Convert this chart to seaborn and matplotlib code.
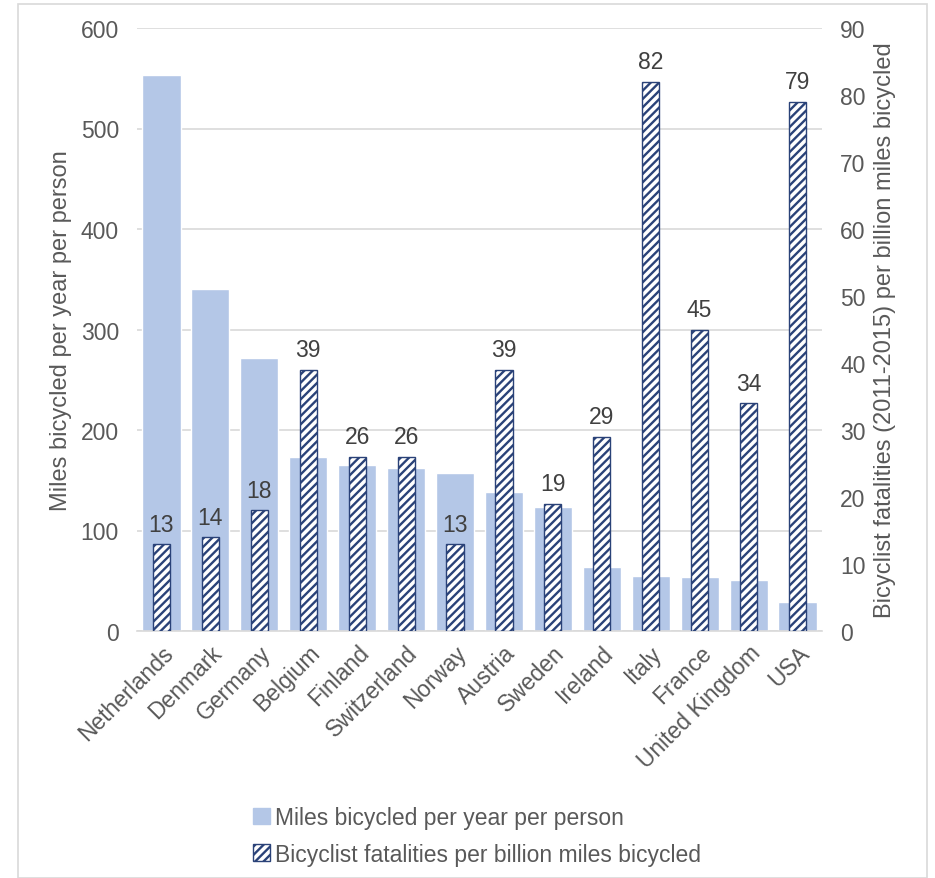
import matplotlib
matplotlib.use("Agg")
import matplotlib.pyplot as plt
import matplotlib.patches as mpatches
import seaborn as sns
import pandas as pd

countries = ["Netherlands", "Denmark", "Germany", "Belgium", "Finland", "Switzerland",
             "Norway", "Austria", "Sweden", "Ireland", "Italy", "France",
             "United Kingdom", "USA"]
miles = [553, 340, 272, 173, 165, 162, 157, 138, 123, 64, 55, 54, 51, 29]
fatalities = [13, 14, 18, 39, 26, 26, 13, 39, 19, 29, 82, 45, 34, 79]

miles_label = "Miles bicycled per year per person"
fat_label = "Bicyclist fatalities per billion miles bicycled"
left_ylabel = "Miles bicycled per year per person"
right_ylabel = "Bicyclist fatalities (2011-2015) per billion miles bicycled"

sns.set_theme(style="white")
plt.rcParams['font.family'] = ['Liberation Sans', 'DejaVu Sans']
plt.rcParams['hatch.linewidth'] = 1.7
plt.rcParams['hatch.color'] = '#1f2f55'

df = pd.DataFrame({"country": countries, "miles": miles, "fat": fatalities})

light = "#b4c7e7"
gray_txt = "#595959"
grid_c = "#d9d9d9"
FS = 16.5

fig = plt.figure(figsize=(9.35, 8.79), dpi=100)
ax = fig.add_axes([137/935, 1-632/879, (822-137)/935, (632-29)/879])
ax2 = ax.twinx()

sns.barplot(data=df, x="country", y="miles", color=light, saturation=1,
            width=0.78, ax=ax, order=countries)
sns.barplot(data=df, x="country", y="fat", color="white", saturation=1,
            width=0.35, ax=ax2, order=countries, edgecolor="#2a4278",
            linewidth=1.0, hatch="////")

ax.set_ylim(0, 600)
ax2.set_ylim(0, 90)
ax.set_yticks(range(0, 601, 100))
ax2.set_yticks(range(0, 91, 10))
ax.set_xlim(-0.5, len(countries) - 0.5)
ax.set_axisbelow(True)
ax.yaxis.grid(True, color=grid_c, linewidth=1.2)
ax.xaxis.grid(False)
ax2.grid(False)

for a in (ax, ax2):
    for s in a.spines.values():
        s.set_visible(False)
ax.spines['bottom'].set_visible(True)
ax.spines['bottom'].set_color(grid_c)
ax.spines['bottom'].set_linewidth(1.2)

ax.tick_params(axis='y', length=0, pad=13, labelsize=FS, labelcolor=gray_txt)
ax2.tick_params(axis='y', length=0, pad=13, labelsize=FS, labelcolor=gray_txt)
ax.tick_params(axis='x', length=0, pad=7, labelsize=FS, labelcolor=gray_txt)
ax.set_xticks(range(len(countries)))
ax.set_xticklabels(countries, rotation=45, ha='right', rotation_mode='anchor')
ax.set_xlabel("")
ax.set_ylabel(left_ylabel, fontsize=17, color=gray_txt, labelpad=6)
ax2.set_ylabel(right_ylabel, fontsize=17, color=gray_txt, labelpad=6)

ax2.bar_label(ax2.containers[0], labels=[str(v) for v in fatalities],
              padding=6, fontsize=FS, color="#404040")

h1 = mpatches.Patch(facecolor=light, edgecolor=light, label=miles_label)
h2 = mpatches.Patch(facecolor="white", edgecolor="#2a4278", hatch="////", label=fat_label)
fig.legend(handles=[h1, h2], loc='center left', bbox_to_anchor=(0.248, 0.048),
           frameon=False, fontsize=16.5, handlelength=0.75, handleheight=0.75,
           handletextpad=0.25, labelspacing=0.6, labelcolor=gray_txt)

fig.patches.append(mpatches.Rectangle((18/935, 0), (927-18)/935, 1-5/879,
                                      transform=fig.transFigure, fill=False,
                                      edgecolor=grid_c, linewidth=1.2))

fig.savefig("out.png", dpi=100)
